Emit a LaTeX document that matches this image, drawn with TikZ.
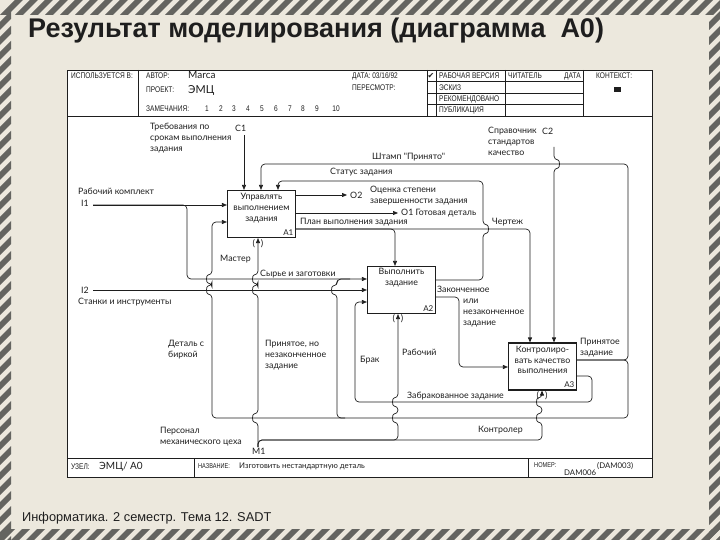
\documentclass[tikz,border=0pt]{standalone}
\usepackage{fontspec}
\setmainfont{Liberation Sans}
\newfontfamily\gothic{Lato}
\newfontfamily\plotter[FakeStretch=0.8]{Liberation Sans}
\newfontfamily\symfont{DejaVu Sans}
\usetikzlibrary{positioning,arrows.meta}

\definecolor{paper}{RGB}{236,232,221}
\definecolor{stripegray}{RGB}{100,100,96}
\definecolor{ink}{RGB}{30,30,30}

\tikzset{
    hatch/.style={fill=stripegray, draw=none},
    form/.style={draw=ink, line width=0.9pt},
    func/.style={draw=ink, line width=1.1pt, fill=white, minimum width=68pt, minimum height=47pt, inner sep=0pt},
    functext/.style={font=\gothic\fontsize{8.8}{11}\selectfont, align=center, inner sep=0pt, text=ink},
    fnum/.style={font=\gothic\fontsize{8}{9}\selectfont, anchor=south east, inner sep=2.5pt, text=ink},
    arr/.style={draw=ink, line width=0.7pt, rounded corners=4pt, -{Triangle[length=5pt,width=4pt]}},
    wire/.style={draw=ink, line width=0.7pt, rounded corners=4pt},
    lbl/.style={font=\gothic\fontsize{8.8}{11}\selectfont, anchor=west, align=left, inner sep=0pt, text=ink},
    lblnw/.style={lbl, anchor=north west},
    hdr/.style={font=\plotter\fontsize{8.2}{10}\selectfont, anchor=west, inner sep=0pt, text=ink},
    tunnel/.style={font=\gothic\fontsize{9}{9}\selectfont, inner sep=0pt, text=ink},
    % small hops where a vertical wire crosses a horizontal one
    hop/.style 2 args={insert path={-- (#1,#2+4) .. controls (#1-6,#2+4) and (#1-6,#2-4) .. (#1,#2-4)}},
    hopr/.style 2 args={insert path={-- (#1,#2+4) .. controls (#1+6,#2+4) and (#1+6,#2-4) .. (#1,#2-4)}},
    hopd/.style 2 args={insert path={-- (#1,#2-4) .. controls (#1+6,#2-4) and (#1+6,#2+4) .. (#1,#2+4)}}
}

\begin{document}
\begin{tikzpicture}[x=1pt, y=-1pt]
    \useasboundingbox (0,0) rectangle (720,540);
    \fill[paper] (0,0) rectangle (720,540);
    % hatched border
    \foreach \k in {0,1,...,48} {
        \fill[hatch] ({15*\k},15) -- ({15*\k+8},15) -- ({15*\k+23},0) -- ({15*\k+15},0) -- cycle;
        \fill[hatch] ({15*\k-4},540) -- ({15*\k+4},540) -- ({15*\k+15},529) -- ({15*\k+7},529) -- cycle;
    }
    \foreach \k in {0,1,...,36} {
        \fill[hatch] (0,{15*\k+22}) -- (0,{15*\k+30}) -- (11,{15*\k+19}) -- (11,{15*\k+11}) -- cycle;
        \fill[hatch] (709,{15*\k+22}) -- (709,{15*\k+30}) -- (720,{15*\k+19}) -- (720,{15*\k+11}) -- cycle;
    }

    \node[anchor=base west, font=\bfseries\fontsize{27}{30}\selectfont, inner sep=0pt, text=ink] (title) at (28,38) {Результат моделирования (диаграмма\ \ A0)};
    \node[anchor=base west, font=\fontsize{12.8}{15}\selectfont, inner sep=0pt, text=ink] (course) at (22,521) {Информатика. 2 семестр. Тема 12. SADT};

    % Form
    \draw[form, fill=white] (67,70) rectangle (652,477);
    \draw[form] (67,116) -- (652,116);
    \draw[form] (138,70) -- (138,116);
    \draw[form] (427,70) -- (427,116);
    \draw[form] (436,70) -- (436,116);
    \draw[form] (505,70) -- (505,116);
    \draw[form] (583,70) -- (583,116);
    \foreach \y in {81.5,93,104.5}
        \draw[form] (427,\y) -- (583,\y);
    \draw[form] (67,458) -- (652,458);
    \draw[form] (194,458) -- (194,477);
    \draw[form] (528,458) -- (528,477);

    % Header
    \node[hdr] (usedat) at (71,76) {ИСПОЛЬЗУЕТСЯ В:};
    \node[hdr] (author) at (146,76) {АВТОР:};
    \node[lbl, font=\gothic\fontsize{10}{12}\selectfont] (authorval) at (188,75) {Marca};
    \node[hdr] (project) at (146,90) {ПРОЕКТ:};
    \node[lbl, font=\gothic\fontsize{11}{12}\selectfont] (projectval) at (188,90) {ЭМЦ};
    \node[hdr] (notes) at (146,109) {ЗАМЕЧАНИЯ:};
    \foreach \n/\x in {1/207,2/221,3/234,4/248,5/262,6/276,7/290,8/303,9/317,10/336}
        \node[hdr, anchor=base] (note\n) at (\x,112) {\n};
    \node[hdr] (date) at (352,76) {ДАТА: 03/16/92};
    \node[hdr] (revision) at (352,88) {ПЕРЕСМОТР:};
    \node[font=\symfont\fontsize{8}{8}\selectfont, inner sep=0pt, text=ink] (check) at (431,76) {✔};
    \node[hdr] (working) at (439,76) {РАБОЧАЯ ВЕРСИЯ};
    \node[hdr] (draft) at (439,87.5) {ЭСКИЗ};
    \node[hdr] (recommended) at (439,99) {РЕКОМЕНДОВАНО};
    \node[hdr] (publication) at (439,110.5) {ПУБЛИКАЦИЯ};
    \node[hdr] (reader) at (508,76) {ЧИТАТЕЛЬ};
    \node[hdr] (readerdate) at (564,76) {ДАТА};
    \node[hdr] (context) at (596,76) {КОНТЕКСТ:};
    \fill[ink] (614,87) rectangle (621,92);

    % Footer
    \node[hdr] (nodelbl) at (71,467) {УЗЕЛ:};
    \node[lbl, font=\gothic\fontsize{10}{12}\selectfont] (nodeval) at (99,467) {ЭМЦ/ A0};
    \node[hdr, font=\plotter\fontsize{7}{8}\selectfont] (titlelbl) at (198,466) {НАЗВАНИЕ:};
    \node[lbl, font=\gothic\fontsize{7.8}{9}\selectfont] (titleval) at (239,466) {Изготовить нестандартную деталь};
    \node[hdr, font=\plotter\fontsize{7}{8}\selectfont] (numberlbl) at (534,465) {НОМЕР:};
    \node[lbl, font=\gothic\fontsize{7.8}{9}\selectfont] (numberval) at (597,466) {(DAM003)};
    \node[lbl, font=\gothic\fontsize{7.8}{9}\selectfont] (numberold) at (564,473) {DAM006};

    % Functions
    \node[func] (a1) at (261.5,214) {};
    \node[functext, below=3pt of a1.north] (a1txt) {Управлять\\выполнением\\задания};
    \node[fnum] (a1num) at (a1.south east) {A1};
    \node[func] (a2) at (401.5,290) {};
    \node[functext, below=2pt of a2.north] (a2txt) {Выполнить\\задание};
    \node[fnum] (a2num) at (a2.south east) {A2};
    \node[func] (a3) at (542.5,366.5) {};
    \node[functext, below=4pt of a3.north, font=\gothic\fontsize{8.8}{10.5}\selectfont] (a3txt) {Контролиро-\\вать качество\\выполнения};
    \node[fnum] (a3num) at (a3.south east) {A3};
    \node[tunnel] (a1tun) at (258,244) {(\hspace{6pt})};
    \node[tunnel] (a2tun) at (398,319) {(\hspace{6pt})};
    \node[tunnel] (a3tun) at (542,396) {(\hspace{6pt})};

    \coordinate (i1) at (93,205);
    \coordinate (i2) at (93,290);
    \coordinate (c1) at (244,135);
    \coordinate (c2) at (554,147);
    \coordinate (m1) at (258,447);
    \coordinate (o2) at (347,195);
    \coordinate (o1) at (398,213);

    % Inputs and controls
    \draw[arr] (i1) -- (i1 -| a1.west);
    \draw[arr] (i1) -- (187,205) -- (187,279) -- (a2.west |- 0,279);
    \draw[arr] (i2) -- (i2 -| a2.west);
    \draw[arr] (c1) -- (c1 |- a1.north);
    \draw[arr] (c2) [hopd={554}{164}] -- (c2 |- a3.north);

    % Outputs of A1
    \draw[arr] (a1.east |- o2) -- (o2);
    \draw[arr] (a1.east |- o1) -- (o1);
    \draw[arr] (a1.east |- 0,229) -- (395,229) -- (395,229 |- a2.north);
    \draw[arr] (a1.east |- 0,229) -- (530,229) -- (530,229 |- a3.north);

    % Outputs of A2
    \draw[arr] (a2.east |- 0,280) -- (483,280) [hopr={483}{229}] -- (483,181) -- (278,181) -- (278,181 |- a1.north);
    \draw[arr] (a2.east |- 0,297) -- (459,297) -- (459,367) -- (459,367 -| a3.west);

    % Outputs of A3
    \draw[arr] (a3.east |- 0,360) -- (628,360) -- (628,164) -- (261,164) -- (261,164 |- a1.north);
    \draw[arr] (a3.east |- 0,360) -- (628,360) -- (628,418) -- (212,418) [hop={212}{290}] [hop={212}{279}] -- (212,222) -- (212,222 -| a1.west);
    \draw[wire] (345,418) -- (337,418) [hop={337}{290}] -- (337,279) -- (350,279);
    \draw[arr] (a3.east |- 0,376) -- (592,376) -- (592,402) -- (355,402) -- (355,302) -- (355,302 -| a2.west);

    % Mechanisms
    \draw[arr] (m1) [hop={258}{418}] [hop={258}{290}] [hop={258}{279}] -- (m1 |- a1.south);
    \draw[arr] (m1) -- (258,440) -- (398,440) [hop={398}{418}] [hop={398}{402}] -- (398,440 |- a2.south);
    \draw[arr] (m1) -- (258,440) -- (542,440) [hop={542}{418}] [hop={542}{402}] -- (542,440 |- a3.south);

    % Labels
    \node[lbl] (workset) at (78,191) {Рабочий комплект};
    \node[lbl] (i1txt) at (81,203) {I1};
    \node[lbl] (i2txt) at (81,290) {I2};
    \node[lbl] (tools) at (78,302) {Станки и инструменты};
    \node[lblnw] (req) at (150,123) {Требования по\\срокам выполнения\\задания};
    \node[lbl] (c1txt) at (235,128) {C1};
    \node[lbl] (stamp) at (372,157) {Штамп "Принято"};
    \node[lbl] (status) at (330,172) {Статус задания};
    \node[lbl] (o2txt) at (350,195) {O2};
    \node[lblnw] (degree) at (370,186) {Оценка степени\\завершенности задания};
    \node[lbl] (o1txt) at (401,213) {O1 Готовая деталь};
    \node[lbl] (plan) at (300,222) {План выполнения задания};
    \node[lbl] (drawing) at (492,222) {Чертеж};
    \node[lblnw] (handbook) at (488,127) {Справочник\\стандартов\\качество};
    \node[lbl] (c2txt) at (542,131) {C2};
    \node[lbl] (master) at (220,259) {Мастер};
    \node[lbl] (stock) at (260,274) {Сырье и заготовки};
    \node[lbl] (done) at (437,289) {Законченное};
    \node[lblnw] (doneor) at (463,299) {или\\незаконченное\\задание};
    \node[lblnw] (tagged) at (168,340) {Деталь с\\биркой};
    \node[lblnw] (accunf) at (265,340) {Принятое, но\\незаконченное\\задание};
    \node[lbl] (reject) at (360,360) {Брак};
    \node[lbl] (worker) at (402,352) {Рабочий};
    \node[lblnw] (accepted) at (580,338) {Принятое\\задание};
    \node[lbl] (rejected) at (407,396) {Забракованное задание};
    \node[lbl] (inspector) at (478,430) {Контролер};
    \node[lblnw] (staff) at (160,427) {Персонал\\механического цеха};
    \node[lbl] (m1txt) at (252,451) {M1};
\end{tikzpicture}
\end{document}
